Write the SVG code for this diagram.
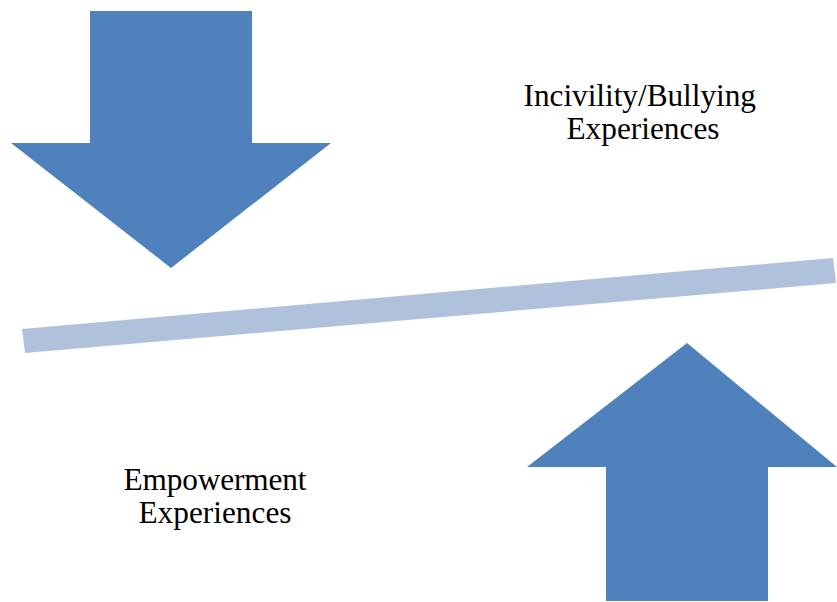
<svg xmlns="http://www.w3.org/2000/svg" width="837" height="602" viewBox="0 0 837 602">
<style>
.arrow{fill:#4F81BD}
.bar{fill:#B0C1DC}
.lbl{font-family:'Liberation Serif','Times New Roman',serif;font-size:31.3px;fill:#000}
</style>
<rect width="837" height="602" fill="#fff"/>
<g id="connectors">
<polygon id="balance-bar" class="bar" points="22,329 833,258 836,283 25,353"/>
</g>
<g id="down-arrow">
<polygon class="arrow" points="90,11 252,11 252,143 331,143 171,268 11,143 90,143"/>
</g>
<g id="up-arrow">
<polygon class="arrow" points="687,343 837,467 768,467 768,601 606,601 606,467 527,467"/>
</g>
<g id="incivility-label">
<text class="lbl" x="523.5" y="106" textLength="232.5">Incivility/Bullying</text>
<text class="lbl" x="566.5" y="138.5" textLength="153">Experiences</text>
</g>
<g id="empowerment-label">
<text class="lbl" x="123.5" y="490" textLength="183">Empowerment</text>
<text class="lbl" x="138.5" y="522.5" textLength="153">Experiences</text>
</g>
</svg>
